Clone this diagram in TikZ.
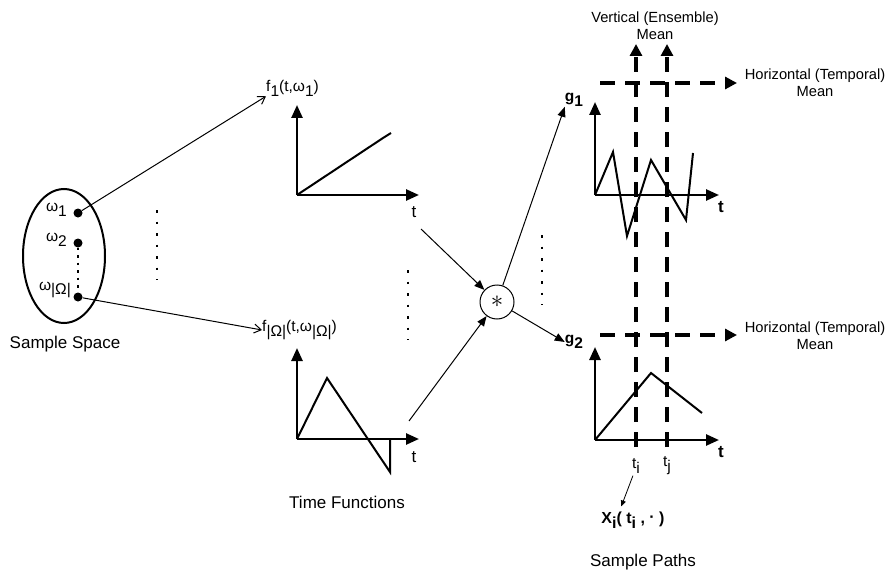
\documentclass[tikz,border=0pt]{standalone}
\usepackage{fontspec}
\setmainfont{Liberation Sans}
\usetikzlibrary{arrows.meta,calc}
\newcommand{\sbs}[1]{\raisebox{-0.6ex}{#1}}
\begin{document}
\begin{tikzpicture}[x=1pt,y=-1pt,
  lbl/.style={font=\fontsize{17}{20}\selectfont, inner sep=0pt},
  sml/.style={font=\fontsize{14.7}{17}\selectfont, inner sep=0pt, align=center},
  fl/.style={font=\fontsize{15.5}{18}\selectfont, inner sep=0pt},
  dot/.style={circle, fill, inner sep=0pt, minimum size=9pt},
  axis/.style={line width=2.5pt, -{Triangle[length=13pt,width=11pt]}},
  sig/.style={line width=2pt},
  thinarr/.style={line width=1pt, -{Straight Barb[length=7pt,width=9pt]}},
  filarr/.style={line width=1pt, -{Triangle[length=10pt,width=8pt]}},
  dashline/.style={line width=3.2pt, dash pattern=on 15pt off 10pt, -{Triangle[length=12pt,width=12pt]}},
  dotsline/.style={line width=2.4pt, dash pattern=on 2.5pt off 9pt}
]
\useasboundingbox (0,0) rectangle (893,572);

% ---- Sample space
\draw[line width=2pt] (64,256) ellipse [x radius=41, y radius=67];
\node[dot] (w1) at (78,213) {};
\node[dot] (w2) at (78,243) {};
\node[dot] (w3) at (78,297) {};
\draw[line width=2.4pt, dash pattern=on 2.5pt off 5pt] (w2) -- (w3);
\node[fl, anchor=east] (l1) at (67,210) {ω\sbs{1}};
\node[fl, anchor=east] (l2) at (67,240) {ω\sbs{2}};
\node[fl, anchor=east] (l3) at (71,290) {ω\sbs{|Ω|}};
\node[lbl] (ss) at (65,344) {Sample Space};
\draw[dotsline] (157,210) -- (157,280);

% ---- Time functions
\node[fl, anchor=west] (f1) at (266,88) {f\sbs{1}(t,ω\sbs{1})};
\node[fl, anchor=west] (f2) at (262,330) {f\sbs{|Ω|}(t,ω\sbs{|Ω|})};
\draw[thinarr] (w1) -- (f1.south west);
\draw[thinarr] (w3) -- (f2.west);

\coordinate (o1) at (297,195);
\draw[axis] (o1) -- (297,105);
\draw[axis] (o1) -- (419,195);
\draw[sig] (o1) -- (383,138) -- (391,133);
\node[lbl] (t1) at (414,212) {t};

\coordinate (o2) at (297,439);
\draw[axis] (o2) -- (297,348);
\draw[axis] (o2) -- (419,439);
\draw[sig] (o2) -- (327,378) -- (390,472) -- (390,439);
\node[lbl] (t2) at (414,457) {t};
\node[lbl] (tf) at (347,502) {Time Functions};
\draw[dotsline] (408,270) -- (408,340);

% ---- combiner
\node[circle, draw, line width=1pt, minimum size=34pt, inner sep=0pt] (star) at (497,302) {\fontsize{26}{26}\selectfont$\ast$};
\coordinate (s1) at (421,229);
\coordinate (s2) at (409,421);
\draw[filarr] (s1) -- (star);
\draw[filarr] (s2) -- (star);
\node[fl, font=\fontsize{15.5}{17}\selectfont\bfseries] (g1) at (574,100) {g\sbs{1}};
\node[fl, font=\fontsize{15.5}{17}\selectfont\bfseries] (g2) at (574,342) {g\sbs{2}};
\draw[filarr] (star) -- (g1.south west);
\draw[filarr] (star) -- (g2.west);
\draw[dotsline] (542,235) -- (542,305);

% ---- sample paths
\coordinate (o3) at (595,195);
\draw[axis] (o3) -- (595,102);
\draw[axis] (o3) -- (719,195);
\draw[sig] (o3) -- (613,152) -- (627,236) -- (651,160) -- (686,220) -- (693,153);
\node[lbl, font=\fontsize{17}{20}\selectfont\bfseries] (t3) at (721,207) {t};

\coordinate (o4) at (595,440);
\draw[axis] (o4) -- (595,347);
\draw[axis] (o4) -- (719,440);
\draw[sig] (o4) -- (651,373) -- (702,413);
\node[lbl, font=\fontsize{17}{20}\selectfont\bfseries] (t4) at (721,452) {t};

\draw[dashline] (636,447) -- (636,44);
\draw[dashline] (667,447) -- (667,44);
\draw[dashline] (600,83) -- (737,83);
\draw[dashline] (600,335) -- (737,335);

\node[sml] (vm) at (655,26) {Vertical (Ensemble)\\Mean};
\node[sml] (hm1) at (815,83) {Horizontal (Temporal)\\Mean};
\node[sml] (hm2) at (815,336) {Horizontal (Temporal)\\Mean};

\node[fl] (ti) at (636,466) {t\sbs{i}};
\node[fl] (tj) at (667,466) {t\sbs{j}};
\node[fl, font=\fontsize{16}{18}\selectfont\bfseries] (xi) at (633,520) {X\sbs{i}( t\sbs{i} , \raisebox{0.1ex}{·} )};
\coordinate (xa) at ($(xi.north west)+(20,-5)$);
\draw[line width=0.8pt, -{Triangle[length=6pt,width=5pt]}] ($(ti.south west)+(1,2)$) -- (xa);
\node[lbl] (sp) at (643,562) {Sample Paths};
\end{tikzpicture}
\end{document}
